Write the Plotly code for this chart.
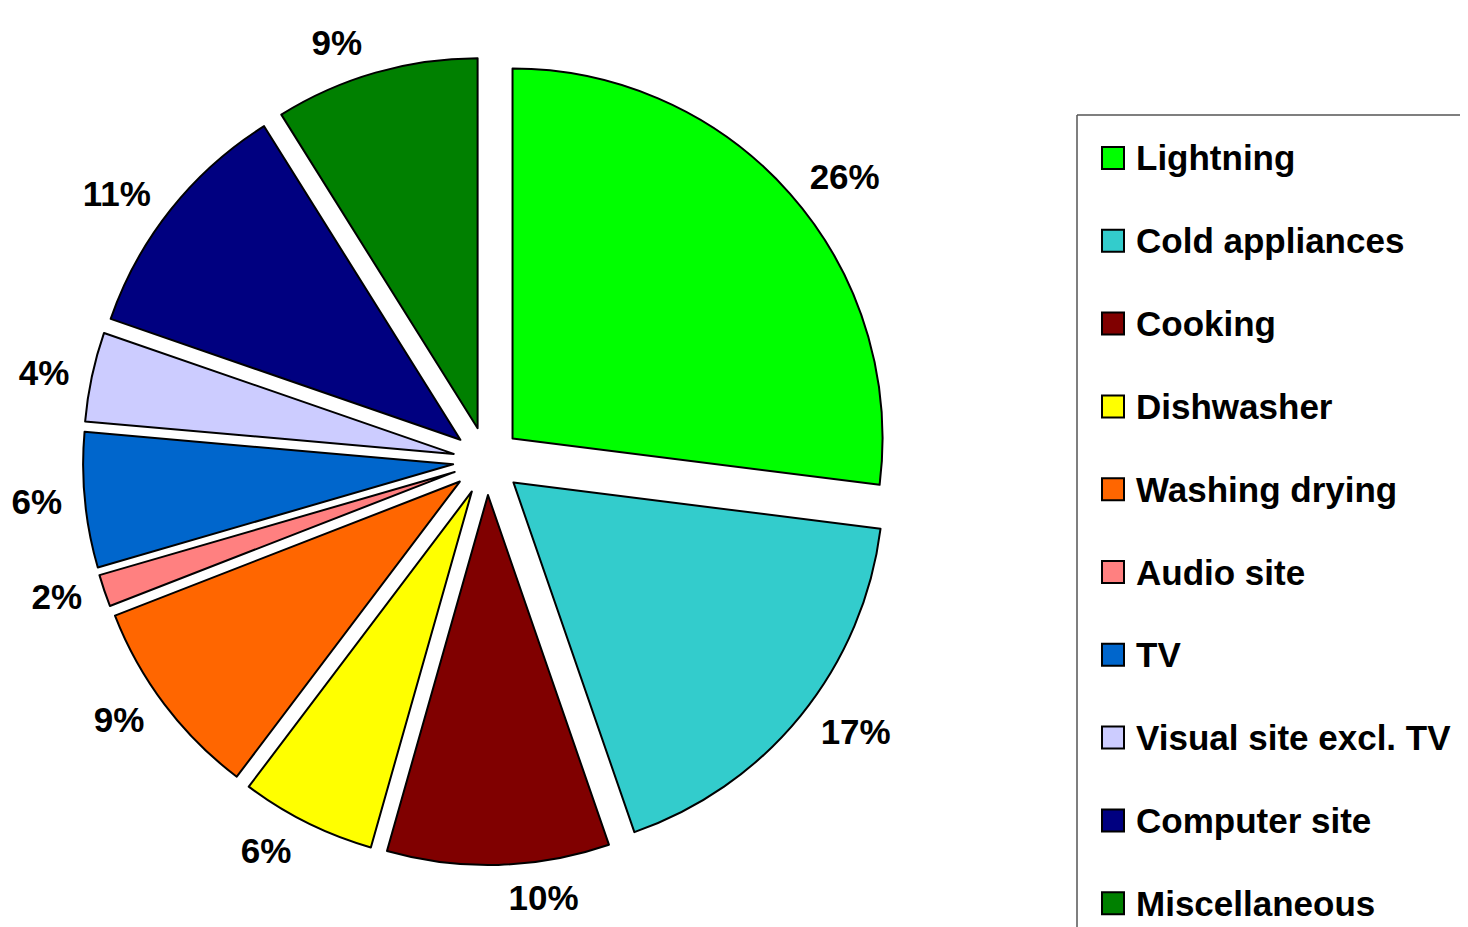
import plotly.graph_objects as go

# Household electricity use by end-use
LABELS = ["Lightning", "Cold appliances", "Cooking", "Dishwasher", "Washing drying",
          "Audio site", "TV", "Visual site excl. TV", "Computer site", "Miscellaneous"]
# slice sizes as drawn in the picture (share of the full circle, %)
SHARES = [27.0, 17.7, 9.7, 5.9, 8.8, 1.4, 5.9, 3.9, 10.8, 8.9]
# percentage labels as printed next to the slices
PCT_TEXT = ["26%", "17%", "10%", "6%", "9%", "2%", "6%", "4%", "11%", "9%"]
COLORS = ["#00FF00", "#33CCCC", "#800000", "#FFFF00", "#FF6600",
          "#FF8080", "#0066CC", "#CCCCFF", "#000080", "#008000"]

W, H = 1468, 927
OFF = 8  # page body margin shifts the figure by 8px
FONT = "Liberation Sans, Arial, sans-serif"
PULL = 0.092

# pie centre (487, 461) px on the page, radius 370 px
cx, cy, rad = 487 - OFF, 461 - OFF, 370


def px(x):
    return (x - OFF) / W


def py(y):
    return 1 - (y - OFF) / H


def pie_domain(r):
    half = r * (1 + PULL)
    return dict(x=[(cx - half) / W, (cx + half) / W],
                y=[(H - cy - half) / H, (H - cy + half) / H])


common = dict(labels=LABELS, values=SHARES, sort=False, direction="clockwise",
              rotation=0, pull=PULL, showlegend=False)

fig = go.Figure()
# the slices
fig.add_trace(go.Pie(
    **common,
    marker=dict(colors=COLORS, line=dict(color="black", width=2)),
    textinfo="none",
    customdata=PCT_TEXT,
    hovertemplate="%{label}: %{customdata}<extra></extra>",
    domain=pie_domain(rad),
))
# slightly larger invisible ring that only carries the outside labels
fig.add_trace(go.Pie(
    **common,
    text=PCT_TEXT,
    textinfo="text",
    textposition="outside",
    textfont=dict(family=FONT, size=35, color="black", weight="bold"),
    marker=dict(colors=["rgba(0,0,0,0)"] * len(LABELS), line=dict(width=0)),
    hoverinfo="skip",
    domain=pie_domain(rad + 12),
))

# hand-drawn legend (Excel style, box clipped at the page edge)
shapes = [
    dict(type="line", xref="paper", yref="paper", x0=px(1077), x1=1.0,
         y0=py(115), y1=py(115), line=dict(color="#555", width=1.5)),
    dict(type="line", xref="paper", yref="paper", x0=px(1077), x1=px(1077),
         y0=0, y1=py(115), line=dict(color="#555", width=1.5)),
]
annotations = []
for i, (lab, col) in enumerate(zip(LABELS, COLORS)):
    yc = 158 + i * 82.8
    shapes.append(dict(type="rect", xref="paper", yref="paper",
                       x0=px(1102), x1=px(1124), y0=py(yc + 11), y1=py(yc - 11),
                       fillcolor=col, line=dict(color="black", width=2)))
    annotations.append(dict(text=lab, xref="paper", yref="paper", x=px(1134), y=py(yc),
                            xanchor="left", yanchor="middle", showarrow=False,
                            font=dict(family=FONT, size=35, color="black", weight="bold")))

fig.update_layout(
    width=W, height=H,
    margin=dict(l=0, r=0, t=0, b=0, autoexpand=False),
    paper_bgcolor="white",
    plot_bgcolor="white",
    shapes=shapes,
    annotations=annotations,
)

fig.write_html("out.html")
